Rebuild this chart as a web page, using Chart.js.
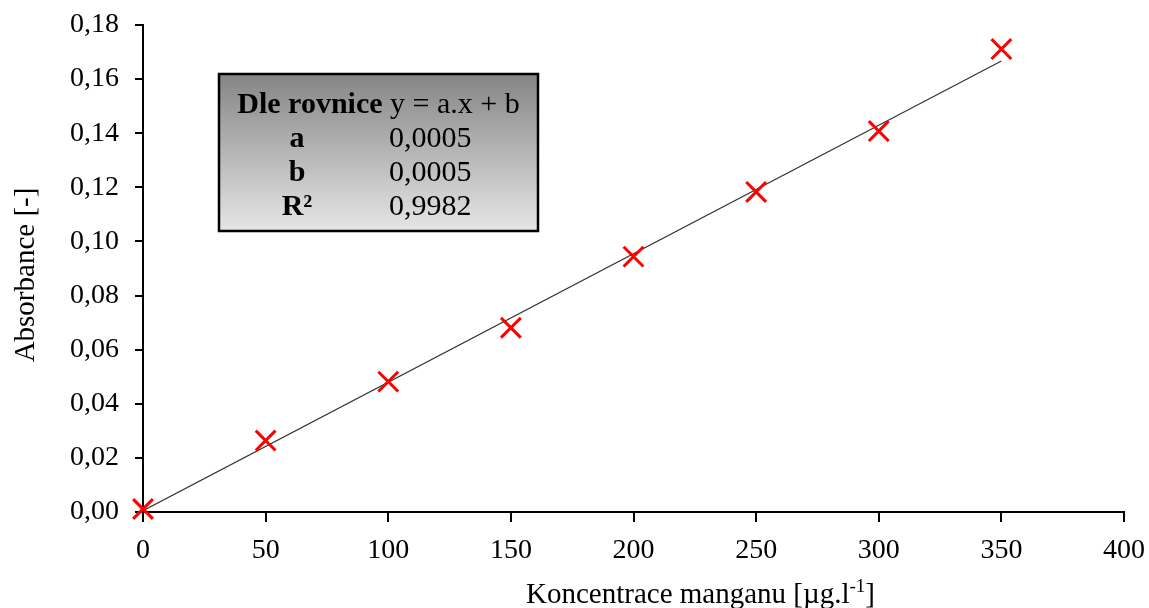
<!DOCTYPE html>
<html>
<head>
<meta charset="utf-8">
<script src="https://cdn.jsdelivr.net/npm/chart.js@4.4.0/dist/chart.umd.min.js"></script>
<style>
html,body{margin:0;padding:0;background:#fff;}
#wrap{width:1149px;height:608px;position:relative;}
</style>
</head>
<body>
<div id="wrap"><canvas id="c" width="1149" height="608"></canvas></div>
<script>
const concentrations = [0, 50, 100, 150, 200, 250, 300, 350];
const absorbances = [0.0011, 0.0264, 0.0482, 0.0681, 0.0944, 0.1183, 0.1408, 0.1711];
const trendX = [0, 350];
const trendY = [0.0005, 0.1667];
const boxTitleBold = 'Dle rovnice';
const boxTitleRest = ' y = a.x + b';
const boxLabels = ['a', 'b', 'R²'];
const boxValues = ['0,0005', '0,0005', '0,9982'];
const xTitle = 'Koncentrace manganu [µg.l';
const xTitleSup = '-1';
const xTitleEnd = ']';
const yTitle = 'Absorbance [-]';

const FONT = '"Liberation Serif", "Times New Roman", serif';

const overlay = {
  id: 'overlay',
  afterDraw(chart) {
    const ctx = chart.ctx;
    ctx.save();
    // Equation box
    const bx = 219, by = 74, bw = 319, bh = 157;
    const g = ctx.createLinearGradient(0, by, 0, by + bh);
    g.addColorStop(0, '#858585');
    g.addColorStop(1, '#e6e6e6');
    ctx.fillStyle = g;
    ctx.fillRect(bx, by, bw, bh);
    ctx.strokeStyle = '#000';
    ctx.lineWidth = 2.5;
    ctx.strokeRect(bx, by, bw, bh);
    ctx.fillStyle = '#000';
    ctx.textBaseline = 'alphabetic';
    const BF = 30;
    ctx.font = 'bold ' + BF + 'px ' + FONT;
    const w1 = ctx.measureText(boxTitleBold).width;
    ctx.font = BF + 'px ' + FONT;
    const w2 = ctx.measureText(boxTitleRest).width;
    let sx = bx + bw / 2 - (w1 + w2) / 2;
    ctx.font = 'bold ' + BF + 'px ' + FONT;
    ctx.textAlign = 'left';
    ctx.fillText(boxTitleBold, sx, 113);
    ctx.font = BF + 'px ' + FONT;
    ctx.fillText(boxTitleRest, sx + w1, 113);
    const rowsY = [147, 181, 215];
    for (let i = 0; i < boxLabels.length; i++) {
      ctx.font = 'bold ' + BF + 'px ' + FONT;
      ctx.textAlign = 'center';
      ctx.fillText(boxLabels[i], 297, rowsY[i]);
      ctx.font = BF + 'px ' + FONT;
      ctx.textAlign = 'left';
      ctx.fillText(boxValues[i], 389, rowsY[i]);
    }
    // X title with superscript
    const TF = 29;
    ctx.font = TF + 'px ' + FONT;
    const a = ctx.measureText(xTitle).width;
    ctx.font = '19px ' + FONT;
    const b = ctx.measureText(xTitleSup).width;
    ctx.font = TF + 'px ' + FONT;
    const c = ctx.measureText(xTitleEnd).width;
    const total = a + b + c;
    let tx = 875 - total;
    const ty = 603;
    ctx.textAlign = 'left';
    ctx.fillText(xTitle, tx, ty);
    ctx.font = '19px ' + FONT;
    ctx.fillText(xTitleSup, tx + a, ty - 11);
    ctx.font = TF + 'px ' + FONT;
    ctx.fillText(xTitleEnd, tx + a + b, ty);
    // Y title
    ctx.translate(34, 275);
    ctx.rotate(-Math.PI / 2);
    ctx.textAlign = 'center';
    ctx.textBaseline = 'alphabetic';
    ctx.fillText(yTitle, 0, 0);
    ctx.restore();
  }
};

new Chart(document.getElementById('c'), {
  type: 'scatter',
  data: {
    datasets: [
      {
        type: 'line',
        label: 'trend',
        data: trendX.map((x, i) => ({x: x, y: trendY[i]})),
        borderColor: '#333333',
        borderWidth: 1.2,
        pointRadius: 0,
        fill: false,
        order: 2
      },
      {
        label: 'data',
        data: concentrations.map((x, i) => ({x: x, y: absorbances[i]})),
        pointStyle: 'crossRot',
        pointRadius: 14,
        pointHoverRadius: 14,
        borderColor: '#ff0000',
        backgroundColor: '#ff0000',
        pointBorderWidth: 3,
        clip: false,
        order: 1
      }
    ]
  },
  options: {
    responsive: false,
    animation: false,
    events: [],
    layout: {padding: {top: 25, right: 25, left: 0, bottom: 0}},
    plugins: {legend: {display: false}, tooltip: {enabled: false}},
    scales: {
      x: {
        type: 'linear',
        min: 0, max: 400,
        ticks: {stepSize: 50, color: '#000', font: {family: FONT, size: 28}, padding: 12, maxRotation: 0},
        grid: {drawOnChartArea: false, drawTicks: true, tickLength: 10, color: '#000', lineWidth: 2},
        border: {color: '#000', width: 2},
        afterFit(s) { s.height = 96; s.paddingLeft = 0; s.paddingRight = 0; }
      },
      y: {
        type: 'linear',
        min: 0, max: 0.18,
        ticks: {stepSize: 0.02, color: '#000', font: {family: FONT, size: 28}, padding: 16,
          callback: v => v.toFixed(2).replace('.', ',')},
        grid: {drawOnChartArea: false, drawTicks: true, tickLength: 8, color: '#000', lineWidth: 2},
        border: {color: '#000', width: 2},
        afterFit(s) { s.width = 143; s.paddingTop = 0; s.paddingBottom = 0; }
      }
    }
  },
  plugins: [overlay]
});
</script>
</body>
</html>
